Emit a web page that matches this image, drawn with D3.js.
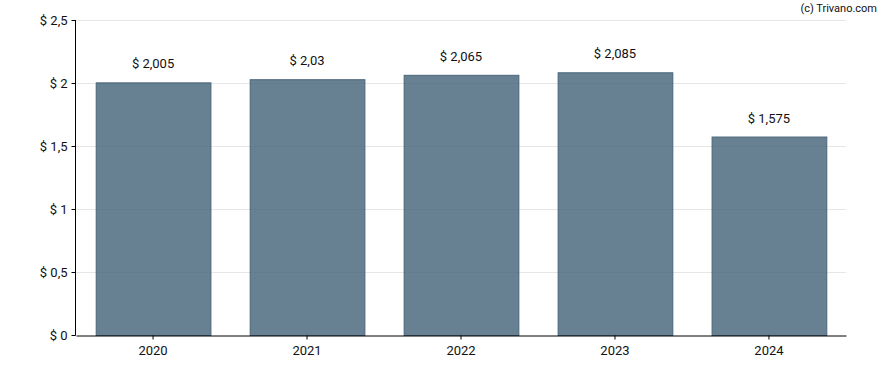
<!DOCTYPE html>
<html lang="en">
<head>
  <meta charset="UTF-8">
  <script src="https://d3js.org/d3.v7.min.js"></script>
  <style>
    body { margin: 0; background: #fff; }
    text { font-family: Roboto, "Noto Sans", sans-serif; }
  </style>
</head>
<body>
  <script>
    // data
    const years = ["2020", "2021", "2022", "2023", "2024"];
    const values = [2.005, 2.03, 2.065, 2.085, 1.575];
    const yTicks = [0, 0.5, 1, 1.5, 2, 2.5];

    const width = 888, height = 370;
    const margin = { top: 20, right: 42, bottom: 35, left: 76 };

    const fmt = v => "$ " + String(v).replace(".", ",");

    const svg = d3.select("body").append("svg")
      .attr("width", width)
      .attr("height", height);

    const x = d3.scaleBand()
      .domain(years)
      .range([margin.left, width - margin.right])
      .paddingInner(0.255)
      .paddingOuter(0.128);

    const y = d3.scaleLinear()
      .domain([0, 2.5])
      .range([height - margin.bottom, margin.top]);

    // gridlines
    svg.append("g")
      .selectAll("line")
      .data(yTicks.filter(d => d > 0))
      .enter()
      .append("line")
      .attr("x1", margin.left)
      .attr("x2", width - margin.right)
      .attr("y1", d => y(d) + 0.5)
      .attr("y2", d => y(d) + 0.5)
      .attr("stroke", "#e6e6e6")
      .attr("stroke-width", 1);

    // bars
    svg.append("g")
      .selectAll("rect")
      .data(values)
      .enter()
      .append("rect")
      .attr("x", (d, i) => x(years[i]) + 0.5)
      .attr("y", d => y(d) + 0.5)
      .attr("width", x.bandwidth())
      .attr("height", d => y(0) - y(d))
      .attr("fill", "rgb(70,100,122)")
      .attr("fill-opacity", 0.82)
      .attr("stroke", "#4a657a")
      .attr("stroke-width", 1);

    // value labels
    svg.append("g")
      .selectAll("text")
      .data(values)
      .enter()
      .append("text")
      .attr("x", (d, i) => x(years[i]) + x.bandwidth() / 2)
      .attr("y", d => y(d) - 14)
      .attr("text-anchor", "middle")
      .attr("font-size", 13)
      .attr("fill", "#111")
      .text(d => fmt(d));

    // y axis
    const yAxis = svg.append("g")
      .attr("transform", "translate(" + (margin.left - 0.5) + ",0)")
      .call(d3.axisLeft(y).tickValues(yTicks).tickSize(4).tickPadding(4).tickFormat(fmt));
    yAxis.select(".domain").attr("stroke", "#000").attr("d", "M0," + margin.top + "V" + (y(0) + 0.5));
    yAxis.selectAll(".tick line").attr("stroke", "#000");
    yAxis.selectAll("text").attr("font-size", 13).attr("fill", "#111")
      .style("font-family", "Roboto, sans-serif");

    // x axis
    const xAxis = svg.append("g")
      .attr("transform", "translate(0," + (y(0) + 0.5) + ")")
      .call(d3.axisBottom(x).tickSize(4).tickPadding(6).tickSizeOuter(0));
    xAxis.select(".domain").attr("stroke", "#000");
    xAxis.selectAll(".tick line").attr("stroke", "#000");
    xAxis.selectAll("text").attr("font-size", 13).attr("fill", "#111")
      .style("font-family", "Roboto, sans-serif");

    // credit
    svg.append("text")
      .attr("x", width - 11)
      .attr("y", 12)
      .attr("text-anchor", "end")
      .attr("font-size", 11)
      .attr("fill", "#111")
      .text("(c) Trivano.com");
  </script>
</body>
</html>
